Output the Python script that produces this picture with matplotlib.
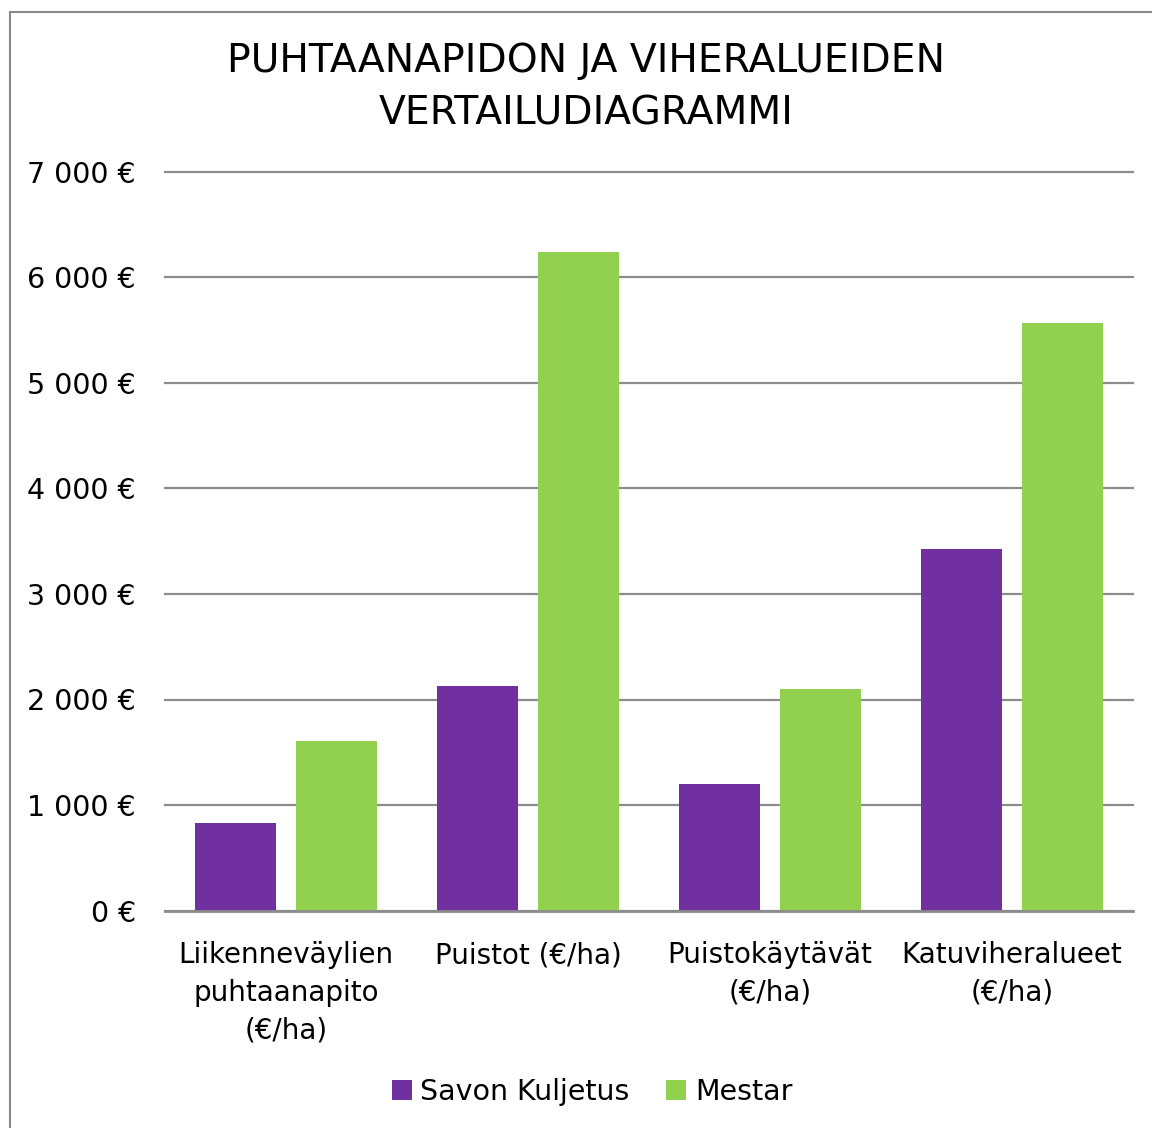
import matplotlib
matplotlib.use("Agg")
import matplotlib.pyplot as plt
import numpy as np
from matplotlib.patches import Rectangle

categories = ["Liikenneväylien\npuhtaanapito\n(€/ha)", "Puistot (€/ha)", "Puistokäytävät\n(€/ha)", "Katuviheralueet\n(€/ha)"]
savon = [829, 2130, 1195, 3431]
mestar = [1610, 6238, 2097, 5564]
series_names = ["Savon Kuljetus", "Mestar"]
yticks = [0, 1000, 2000, 3000, 4000, 5000, 6000, 7000]
ytick_labels = ["0 €", "1 000 €", "2 000 €", "3 000 €", "4 000 €", "5 000 €", "6 000 €", "7 000 €"]
title = "PUHTAANAPIDON JA VIHERALUEIDEN\nVERTAILUDIAGRAMMI"

purple = "#7030a0"
green = "#92d050"
grid_c = "#8c8c8c"

plt.rcParams['font.family'] = ['DejaVu Sans']

W, H = 1152, 1128
fig = plt.figure(figsize=(W/100, H/100), dpi=100)
ax = fig.add_axes([165/W, (H-910.5)/H, (1133-165)/W, (910.5-172)/H])

x = np.arange(len(categories))
bw = 81/242
off = (81+20)/2/242
ax.bar(x-off, savon, width=bw, color=purple, label=series_names[0], zorder=3)
ax.bar(x+off, mestar, width=bw, color=green, label=series_names[1], zorder=3)

ax.set_xlim(-0.5, 3.5)
ax.set_ylim(0, 7000)
ax.set_yticks(yticks)
ax.set_yticklabels(ytick_labels, fontsize=20.5)
ax.set_xticks(x)
ax.set_xticklabels(categories, fontsize=20, linespacing=1.45, va='top')
ax.tick_params(axis='both', length=0)
ax.tick_params(axis='y', pad=21)
ax.tick_params(axis='x', pad=22)
ax.yaxis.grid(True, color=grid_c, linewidth=1.6, zorder=0)
for gl in ax.yaxis.get_gridlines():
    gl.set_clip_on(False)
for s in ['left', 'right', 'top']:
    ax.spines[s].set_visible(False)
ax.spines['bottom'].set_color(grid_c)
ax.spines['bottom'].set_linewidth(2)
ax.spines['bottom'].set_zorder(4)

fig.text(586/W, 1-87/H, title, ha='center', va='center', fontsize=28.3, linespacing=1.5)

leg = fig.legend(loc='center', bbox_to_anchor=(592/W, 1-1092/H), ncol=2, frameon=False,
                 fontsize=20.5, handlelength=0.7, handleheight=0.7, handletextpad=0.3,
                 columnspacing=1.3)

fig.patches.append(Rectangle((10/W, -0.1), 1.2, 1.1-12/H, transform=fig.transFigure,
                             fill=False, edgecolor='#8a8a8a', linewidth=1.5))

fig.savefig("out.png", dpi=100)
